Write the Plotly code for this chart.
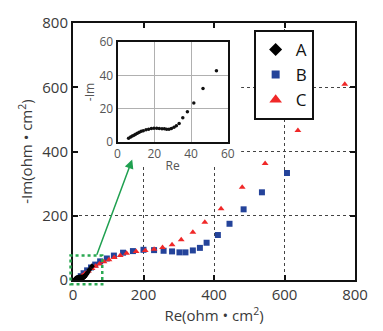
import plotly.graph_objects as go

# Series A (black diamonds; also shown in inset)
a_re = [6.0, 7.1, 8.0, 8.9, 9.8, 10.8, 11.8, 12.9, 14.0, 15.5, 16.9, 18.4, 19.8, 21.3,
        22.7, 24.2, 25.5, 26.7, 28.0, 29.3, 30.7, 32.0, 33.5, 35.5, 38.0, 41.5, 46.5, 53.8]
a_im = [2.3, 3.0, 3.6, 4.1, 4.7, 5.3, 5.8, 6.4, 6.8, 7.4, 7.7, 8.1, 8.3, 8.3,
        8.1, 7.9, 7.9, 7.7, 7.7, 8.1, 8.8, 9.8, 11.1, 14.5, 18.1, 23.4, 32.1, 42.7]

# Series B (blue squares)
b_re = [15, 22, 30, 40, 51, 63, 77, 96, 116, 142, 170, 200, 230, 257, 281, 302, 319,
        340, 360, 379, 411, 444, 484, 536, 607]
b_im = [4, 12, 21, 30, 39, 48, 58, 67, 76, 85, 90, 94, 93, 91, 89, 86, 86,
        92, 100, 116, 140, 175, 220, 273, 333]

# Series C (red triangles)
c_re = [18, 26, 34, 44, 54, 64, 75, 88, 102, 117, 134, 152, 179, 205, 230, 254, 281,
        307, 340, 374, 420, 480, 545, 638, 771]
c_im = [6, 13, 20, 28, 36, 43, 50, 57, 63, 70, 76, 83, 89, 92, 96, 101, 110,
        125, 149, 180, 222, 289, 363, 465, 609]

names = ["A", "B", "C"]
colors = ["#000000", "#24439a", "#f02828"]
symbols = ["diamond", "square", "triangle-up"]

main_range = [0, 800]
inset_range = [0, 60]
ticks_main = [0, 200, 400, 600, 800]
ticks_inset = [0, 20, 40, 60]

FONT = "Open Sans"
fig = go.Figure()

fig.add_trace(go.Scatter(x=b_re, y=b_im, mode="markers", showlegend=False,
                         marker=dict(symbol="square", size=6, color=colors[1]),
                         xaxis="x", yaxis="y"))
fig.add_trace(go.Scatter(x=c_re, y=c_im, mode="markers", showlegend=False,
                         marker=dict(symbol="triangle-up", size=6, color=colors[2]),
                         xaxis="x", yaxis="y"))
fig.add_trace(go.Scatter(x=a_re, y=a_im, mode="markers", showlegend=False,
                         marker=dict(symbol="diamond", size=4.5, color=colors[0]),
                         xaxis="x", yaxis="y"))

fig.add_trace(go.Scatter(x=a_re, y=a_im, mode="markers", showlegend=False,
                         marker=dict(symbol="circle", size=3.5, color="#111111"),
                         xaxis="x2", yaxis="y2"))

# legend-only entries (no plotted points)
for n, c, s, sz in zip(names, colors, symbols, [10, 8, 11]):
    fig.add_trace(go.Scatter(x=[None], y=[None], mode="markers", name=n,
                             marker=dict(symbol=s, size=sz, color=c),
                             xaxis="x", yaxis="y"))

axis_common = dict(showline=True, linecolor="#111111", linewidth=2, mirror="ticks",
                   ticks="inside", ticklen=5, tickwidth=2, tickcolor="#111111",
                   showgrid=True, gridcolor="#444444", gridwidth=1, griddash="dot",
                   zeroline=False, tickfont=dict(size=15, color="#3a3a3a", family=FONT))

fig.update_layout(
    width=383, height=331,
    margin=dict(l=73, r=28, t=15, b=43),
    paper_bgcolor="white", plot_bgcolor="white",
    font=dict(family=FONT, color="#3a3a3a"),
    xaxis=dict(range=main_range, tickvals=ticks_main, domain=[0, 1],
               title=dict(text="Re(ohm • cm<sup>2</sup>)", font=dict(size=15), standoff=4),
               **axis_common),
    yaxis=dict(range=main_range, tickvals=ticks_main, domain=[0, 1],
               title=dict(text="-Im(ohm • cm<sup>2</sup>)", font=dict(size=15), standoff=6),
               **axis_common),
    xaxis2=dict(range=inset_range, tickvals=ticks_inset, domain=[0.158, 0.549], anchor="y2",
                showline=True, linecolor="#111111", linewidth=2, mirror=True, ticks="",
                showgrid=True, gridcolor="#b0b0b0", gridwidth=1, zeroline=False,
                tickfont=dict(size=12, color="#555555"),
                title=dict(text="Re", font=dict(size=12, color="#555555"), standoff=0)),
    yaxis2=dict(range=inset_range, tickvals=ticks_inset, domain=[0.537, 0.926], anchor="x2",
                showline=True, linecolor="#111111", linewidth=2, mirror=True, ticks="",
                showgrid=True, gridcolor="#b0b0b0", gridwidth=1, zeroline=False,
                tickfont=dict(size=12, color="#555555"),
                title=dict(text="-Im", font=dict(size=12, color="#555555"), standoff=2)),
    legend=dict(x=0.747, y=0.973, xanchor="center", yanchor="top",
                bgcolor="white", bordercolor="#111111", borderwidth=2,
                font=dict(size=17, color="#111111", family=FONT),
                tracegroupgap=2, itemwidth=30),
)

# white panel behind the inset (hides main gridlines there)
fig.add_shape(type="rect", xref="x", yref="y", x0=-20, x1=477, y0=360, y1=820,
              fillcolor="white", line=dict(width=0), layer="between")

def px(v):
    return (v - main_range[0]) / (main_range[1] - main_range[0])

# green dotted zoom box
fig.add_shape(type="rect", xref="paper", yref="paper",
              x0=px(-7), x1=px(83), y0=px(-13), y1=px(76),
              line=dict(color="#2aa852", width=2.5, dash="dot"), layer="above")

# green arrow
fig.add_annotation(x=168, y=375, ax=66, ay=74, xref="x", yref="y", axref="x", ayref="y",
                   text="", showarrow=True, arrowhead=2, arrowsize=1.2, arrowwidth=1.5,
                   arrowcolor="#1fa050")

fig.write_html("out.html", config={"displayModeBar": False},
               post_script="document.body.style.margin='0';document.body.style.overflow='hidden';")
